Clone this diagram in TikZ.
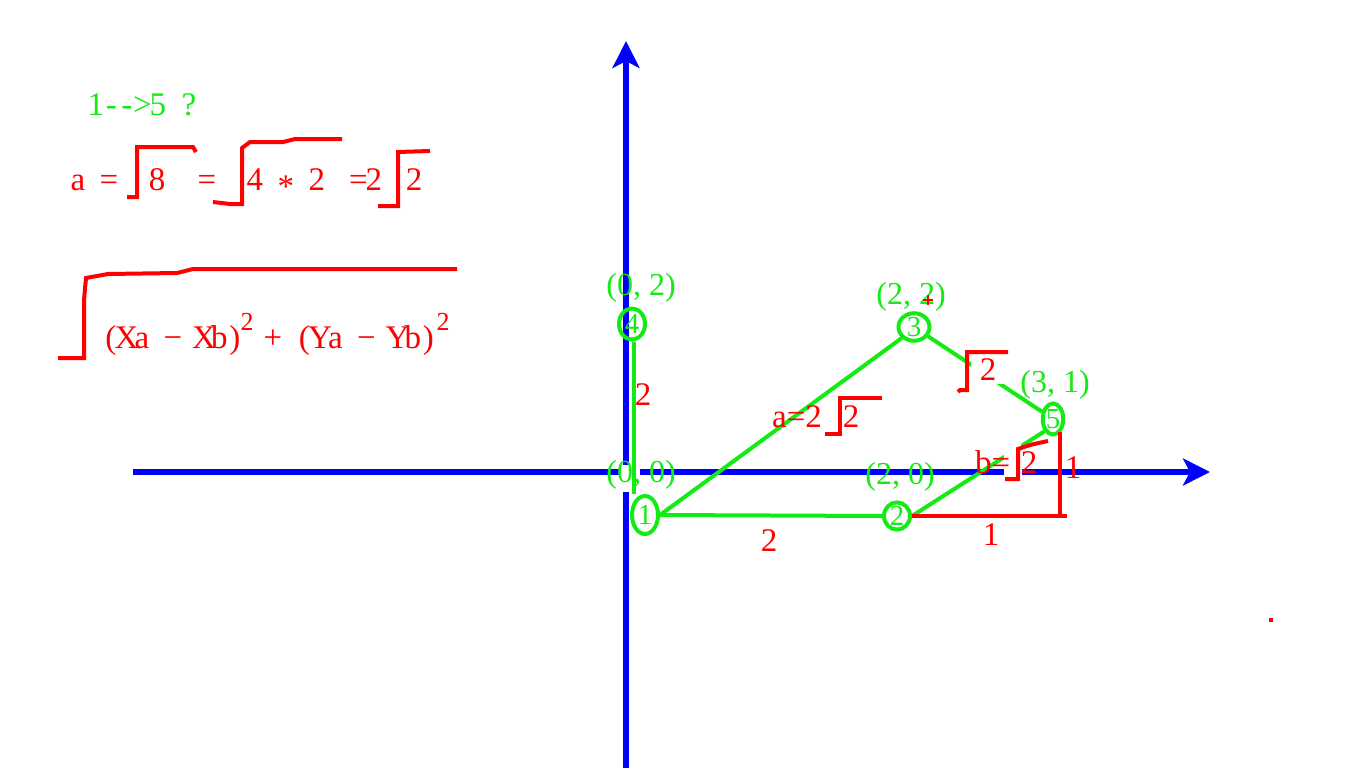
\documentclass[tikz,border=0pt]{standalone}
\usepackage{fontspec}
\setmainfont{Liberation Serif}
\usetikzlibrary{arrows.meta,shapes.geometric}
\definecolor{pgreen}{RGB}{20,235,20}
\definecolor{pred}{RGB}{255,0,0}
\definecolor{pblue}{RGB}{0,0,255}
\newcommand\cc[1]{\makebox[15.5pt]{#1}}
\begin{document}
\begin{tikzpicture}[x=1pt,y=-1pt,
  txt/.style={inner sep=0pt, anchor=base, font=\fontsize{33}{33}\selectfont},
  gtxt/.style={txt, text=pgreen},
  rtxt/.style={txt, text=pred},
  lab/.style={gtxt, font=\fontsize{32}{32}\selectfont},
  nd/.style={ellipse, draw=pgreen, line width=4pt, inner sep=0pt, text=pgreen, font=\fontsize{29}{29}\selectfont},
  axis/.style={draw=pblue, line width=5.5pt, -{Stealth[length=27pt,width=27pt,inset=7pt]}},
  gline/.style={draw=pgreen, line width=4pt},
  rline/.style={draw=pred, line width=4pt, line join=round},
  sq/.style={draw=pred, line width=4pt, line join=miter}
]
\useasboundingbox (0,0) rectangle (1366,768);
\fill[white] (0,0) rectangle (1366,768);

% axes
\coordinate (yb) at (626,768);
\coordinate (yt) at (626,41);
\coordinate (xl) at (133,472);
\coordinate (xr) at (1210,472);
\draw[axis] (yb) -- (yt);
\draw[axis] (xl) -- (xr);
\fill[white] (619,465) rectangle (640,492);
\fill[white] (1005,467) rectangle (1022,477);

% nodes
\node[nd, minimum width=26pt, minimum height=31pt] (n4) at (632,324) {4};
\node[nd, minimum width=26pt, minimum height=38pt] (n1) at (645,515) {1};
\node[nd, minimum width=31pt, minimum height=26pt] (n3) at (914,327) {3};
\node[nd, minimum width=20pt, minimum height=31pt] (n5) at (1053,419) {5};
\node[nd, minimum width=26pt, minimum height=27pt] (n2) at (897,516) {2};

% green edges
\draw[gline] ([xshift=2pt]n4.south) -- ([xshift=2pt]n4.south |- n1.north);
\draw[gline] (n1.east) -- (n3.south west);
\draw[gline] (n1.east) -- (n2.west);
\draw[gline] (n3) -- (n5);
\draw[gline] (n2.east) -- (n5.south west);

% white gaps
\fill[white] (1004,443) rectangle (1021,478);
\fill[white] (971,356) rectangle (1006,384);

% red triangle
\coordinate (rh) at (1067,516);
\coordinate (rt) at (1060,432);
\coordinate (rc) at (1060,518);
\draw[rline] (n2.east) -- (rh);
\draw[rline] (rt) -- (rc);

% coordinate labels
\node[lab] (l02) at (641,295) {(0, 2)};
\node[lab] (l00) at (641,482) {(0, 0)};
\node[lab] (l22) at (911,304) {(2, 2)};
\node[lab] (l31) at (1055,392) {(3, 1)};
\node[lab] (l20) at (900,484) {(2, 0)};

% edge labels
\node[rtxt] (e41) at (643,405) {2};
\node[rtxt] (e12) at (769,551) {2};
\node[rtxt] (r1v) at (1073,478) {1};
\node[rtxt] (r1h) at (991,545) {1};
\node[rtxt, anchor=base west] (ea) at (772,427) {a=2};
\draw[sq] (825,434) -- (840,434) -- (840,398) -- (882,398);
\node[rtxt] (ea2) at (851,427) {2};
\draw[sq] (958,392) -- (960,390) -- (967,390) -- (967,352) -- (1008,352);
\node[rtxt] (e35) at (988,380) {2};
\node[rtxt, anchor=base west] (eb) at (975,473) {b=};
\draw[sq] (1005,479) -- (1018,479) -- (1018,449) -- (1027,446) -- (1034,444) -- (1048,441);
\node[rtxt] (eb2) at (1029,473) {2};

% small marks
\draw[pred, line width=2pt] (923,300) -- (933,300) (928,295) -- (928,305);
\fill[pred] (1269,618) rectangle (1273,622);

% top-left text
\node[gtxt, anchor=base west] (t15) at (88,115) {\cc{1}\cc{-}\cc{-}\cc{>}\cc{5}\cc{ }\cc{?}};
\node[rtxt, anchor=base west] (ta) at (70,190) {\cc{a}\cc{ }\cc{=}};
\draw[sq] (127,197) -- (137,197) -- (137,147) -- (193,147) -- (196,152);
\node[rtxt] (t8) at (157,190) {8};
\node[rtxt] (teq2) at (207,190) {=};
\draw[sq] (213,202) -- (230,204) -- (242,204) -- (242,148) -- (250,142) -- (283,142) -- (295,139) -- (342,139);
\node[rtxt, anchor=base west] (t42) at (247,190) {\cc{4}\cc{ }\cc{\raisebox{-7pt}{*}}\cc{ }\cc{2}};
\node[rtxt, anchor=base west] (teq3) at (350.5,190) {\cc{=}\cc{2}};
\draw[sq] (378,206) -- (398,206) -- (398,152) -- (430,151);
\node[rtxt] (t2c) at (414,190) {2};

% distance formula
\draw[sq] (58,358) -- (84,358) -- (84,300) -- (86,278) -- (108,274) -- (177,273) -- (193,269) -- (457,269);
\node[rtxt, anchor=base west] (tx) at (103,348) {\cc{(}\cc{X}\cc{a}\cc{ }\cc{−}\cc{ }\cc{X}\cc{b}\cc{)}};
\node[rtxt, font=\fontsize{26}{26}\selectfont] (s1) at (247,330) {2};
\node[rtxt] (tplus) at (273,348) {+};
\node[rtxt, anchor=base west] (ty) at (296.5,348) {\cc{(}\cc{Y}\cc{a}\cc{ }\cc{−}\cc{ }\cc{Y}\cc{b}\cc{)}};
\node[rtxt, font=\fontsize{26}{26}\selectfont] (s2) at (443,330) {2};
\end{tikzpicture}
\end{document}
